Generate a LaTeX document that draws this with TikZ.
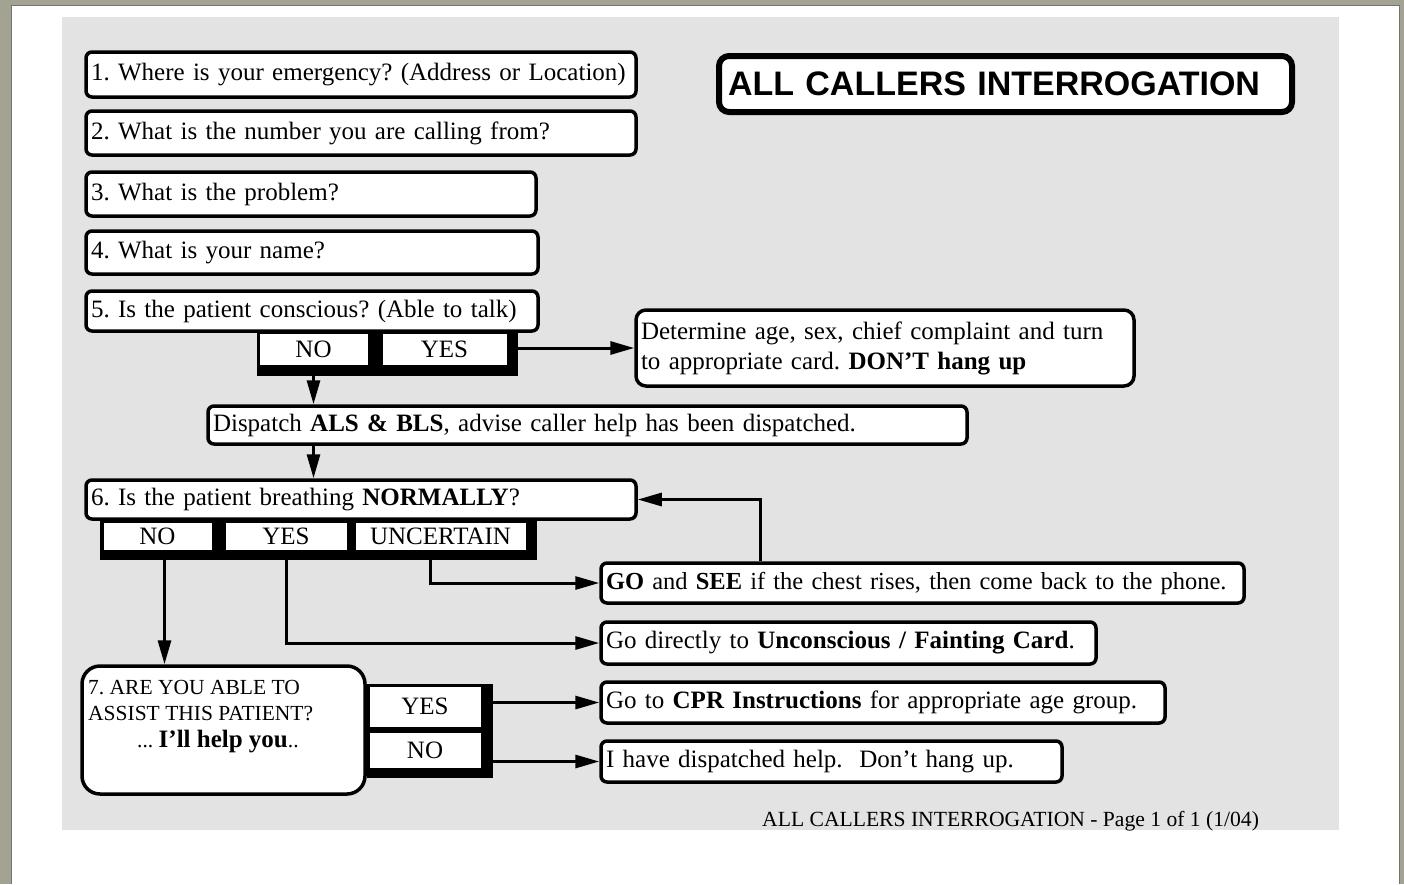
\documentclass[tikz,border=0pt]{standalone}
\usepackage{fontspec}
\setmainfont{Liberation Serif}
\newfontfamily\headfont{Liberation Sans}
\usetikzlibrary{arrows.meta}
\frenchspacing

\definecolor{panel}{HTML}{E3E3E3}
\definecolor{frame}{HTML}{A4A293}

\begin{document}
\begin{tikzpicture}[x=1pt,y=-1pt,
  box/.style={draw, line width=3.5pt, rounded corners=6pt, fill=white,
    inner xsep=5pt, inner ysep=0pt, align=left,
    font=\fontsize{25}{30}\selectfont},
  opt/.style={draw, line width=0.8pt, fill=white, inner sep=0pt,
    font=\fontsize{25}{30}\selectfont},
  arr/.style={line width=3pt, -{Triangle[length=24pt,width=13pt]}}]

\useasboundingbox (0,0) rectangle (1404,884);

% window frame, page and grey card
\fill[frame] (0,0) rectangle (1404,884);
\fill[white] (11,5) rectangle (1399,884);
\draw[black!55, line width=1pt] (11,884) -- (11,5) -- (1399,5) -- (1399,884);
\fill[panel] (62,17) rectangle (1339,830);

% title
\node[box, line width=6pt, rounded corners=10pt, minimum width=573pt,
  minimum height=56pt, text width=555pt, inner xsep=9pt,
  font=\headfont\bfseries\fontsize{34}{40}\selectfont] (title) at (1005.5,84)
  {\mbox{ALL CALLERS INTERROGATION}};

% questions 1-5
\node[box, minimum width=550pt, minimum height=45pt, text width=540pt] (q1) at (361,74.5)
  {\mbox{1. Where is your emergency? (Address or Location)}};
\node[box, minimum width=550pt, minimum height=44pt, text width=540pt] (q2) at (361,133)
  {\mbox{2. What is the number you are calling from?}};
\node[box, minimum width=450pt, minimum height=44pt, text width=440pt] (q3) at (311,194)
  {\mbox{3. What is the problem?}};
\node[box, minimum width=452pt, minimum height=43pt, text width=442pt] (q4) at (312,252.5)
  {\mbox{4. What is your name?}};
\node[box, minimum width=452pt, minimum height=40pt, text width=442pt] (q5) at (312,311)
  {\mbox{5. Is the patient conscious? (Able to talk)}};

% answers to question 5
\fill (257,333) rectangle (518,376);
\node[opt, minimum width=109pt, minimum height=32pt] (no5) at (313.5,349) {NO};
\node[opt, minimum width=125pt, minimum height=32pt] (yes5) at (444.5,349) {YES};

\node[box, rounded corners=10pt, minimum width=498pt, minimum height=76pt,
  text width=488pt] (det) at (885,348)
  {\mbox{Determine age, sex, chief complaint and turn}\\
   \mbox{to appropriate card. \textbf{DON’T hang up}}};

\node[box, minimum width=759pt, minimum height=38pt, text width=749pt] (disp) at (587.5,425)
  {\mbox{Dispatch \textbf{ALS \& BLS}, advise caller help has been dispatched.}};

% question 6
\node[box, minimum width=550pt, minimum height=39pt, text width=540pt] (q6) at (361,499.5)
  {\mbox{6. Is the patient breathing \textbf{NORMALLY}?}};

\fill (100,521) rectangle (537,560);
\node[opt, minimum width=109pt, minimum height=28pt] (no6) at (157.5,536) {NO};
\node[opt, minimum width=122pt, minimum height=28pt] (yes6) at (286,536) {YES};
\node[opt, minimum width=171pt, minimum height=28pt] (unc6) at (440.5,536) {UNCERTAIN};

% outcomes
\node[box, minimum width=643pt, minimum height=40pt, text width=633pt,
  font=\fontsize{24.5}{30}\selectfont] (go) at (922.5,583)
  {\mbox{\textbf{GO} and \textbf{SEE} if the chest rises, then come back to the phone.}};
\node[box, minimum width=495pt, minimum height=42pt, text width=485pt] (gdir) at (848.5,643)
  {\mbox{Go directly to \textbf{Unconscious / Fainting Card}.}};
\node[box, minimum width=564pt, minimum height=41pt, text width=554pt] (cpr) at (883,702.5)
  {\mbox{Go to \textbf{CPR Instructions} for appropriate age group.}};
\node[box, minimum width=461pt, minimum height=41pt, text width=451pt] (ihave) at (831.5,761.5)
  {\mbox{I have dispatched help.\ \ Don’t hang up.}};

% question 7
\node[box, rounded corners=18pt, minimum width=283pt, minimum height=128pt] (q7) at (223.5,730) {};
\node[anchor=north west, align=left, inner sep=0pt,
  font=\fontsize{21.5}{26.5}\selectfont] (q7t) at (88,680)
  {7. ARE YOU ABLE TO\\ASSIST THIS PATIENT?\\
   \hspace*{49pt}... {\fontsize{25}{26.5}\selectfont\textbf{I’ll help you}}..};

\fill (367,684) rectangle (493,778);
\node[opt, minimum width=112pt, minimum height=41pt] (yes7) at (425,706.5) {YES};
\node[opt, minimum width=112pt, minimum height=36pt] (no7) at (425,750) {NO};

% connectors
\draw[arr] (yes5.east |- det.west) -- (det.west);
\draw[arr] (no5.south) -- (no5.south |- disp.north);
\draw[arr] (no5.south |- disp.south) -- (no5.south |- q6.north);
\draw[arr] ([xshift=7pt]no6.south) -- ([xshift=7pt]no6.south |- q7.north);
\draw[arr] (yes6.south) |- (gdir.west);
\draw[arr] ([xshift=-10pt]unc6.south) |- (go.west);
\draw[arr] ([xshift=161pt]go.north west) |- (q6.east);
\draw[arr] (yes7.east |- cpr.west) -- (cpr.west);
\draw[arr] (no7.east |- ihave.west) -- (ihave.west);

% footer
\node[anchor=base west, inner sep=0pt, font=\fontsize{21.6}{24}\selectfont] (foot) at (762,826)
  {ALL CALLERS INTERROGATION - Page 1 of 1 (1/04)};
\end{tikzpicture}
\end{document}
